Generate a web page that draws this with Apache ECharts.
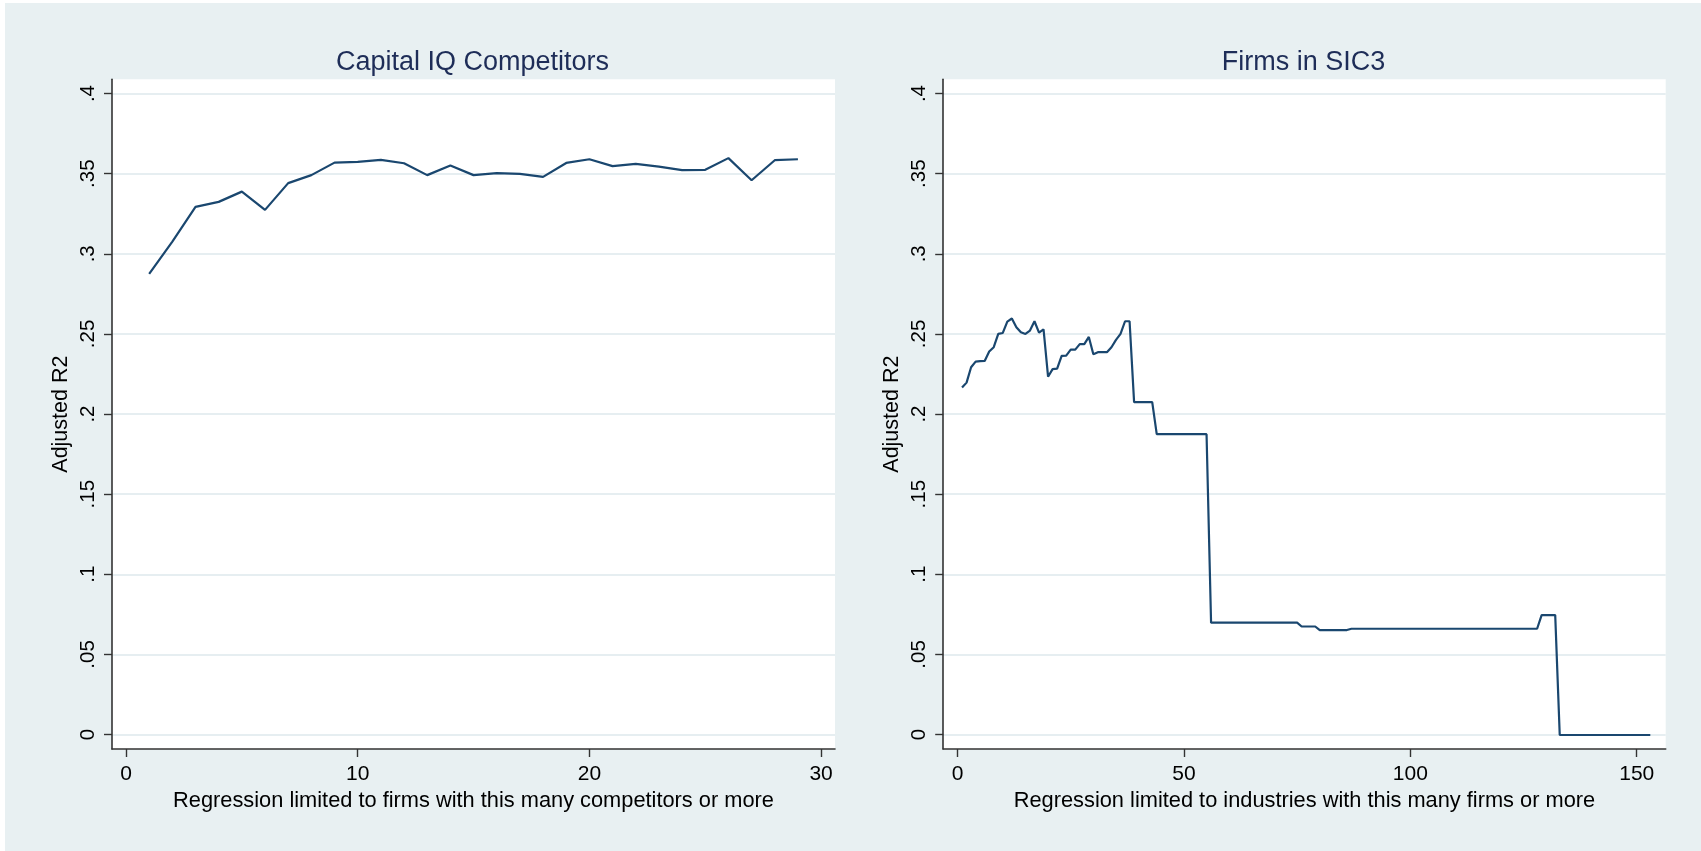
<!DOCTYPE html>
<html>
<head>
<meta charset="utf-8">
<script src="https://cdn.jsdelivr.net/npm/echarts@6/dist/echarts.min.js"></script>
<style>
  html, body { margin: 0; padding: 0; background: #ffffff; }
  #chart { position: absolute; left: 5px; top: 3px; width: 1696px; height: 848px; }
</style>
</head>
<body>
<div id="chart"></div>
<script>
// ---- Data ----
const titles = ['Capital IQ Competitors', 'Firms in SIC3'];
const yAxisTitle = 'Adjusted R2';
const xAxisTitles = [
  'Regression limited to firms with this many competitors or more',
  'Regression limited to industries with this many firms or more'
];

const competitorThresholds = [1,2,3,4,5,6,7,8,9,10,11,12,13,14,15,16,17,18,19,20,21,22,23,24,25,26,27,28,29];
const competitorR2 = [
  0.2875, 0.3076, 0.3293, 0.3324, 0.3388, 0.3274, 0.3441, 0.3491, 0.3569, 0.3574,
  0.3586, 0.3565, 0.3491, 0.3551, 0.3491, 0.3503, 0.3499, 0.3480, 0.3567, 0.3590,
  0.3547, 0.3561, 0.3544, 0.3522, 0.3524, 0.3597, 0.3459, 0.3584, 0.3590
];

const sic3Thresholds = [
  1,2,3,4,5,6,7,8,9,10,11,12,13,14,15,16,17,18,19,20,
  21,22,23,24,25,26,27,28,29,30,31,32,33,34,35,36,37,38,39,40,
  41,42,43,44,45,46,47,48,49,50,51,52,53,54,55,56,57,58,59,60,
  61,62,63,64,65,66,67,68,69,70,71,72,73,74,75,76,77,78,79,80,
  81,82,83,84,85,86,87,88,89,90,91,92,93,94,95,96,97,98,99,100,
  101,102,103,104,105,106,107,108,109,110,111,112,113,114,115,116,117,118,119,120,
  121,122,123,124,125,126,127,128,129,130,131,132,133,134,135,136,137,138,139,140,
  141,142,143,144,145,146,147,148,149,150,151,152,153
];
const sic3R2 = [
  0.2165, 0.2196, 0.2292, 0.2327, 0.2330, 0.2331, 0.2390, 0.2417, 0.2500, 0.2506,
  0.2577, 0.2596, 0.2542, 0.2510, 0.2500, 0.2521, 0.2579, 0.2508, 0.2529, 0.2233,
  0.2280, 0.2283, 0.2363, 0.2365, 0.2402, 0.2402, 0.2436, 0.2436, 0.2481, 0.2373,
  0.2386, 0.2386, 0.2386, 0.2417, 0.2463, 0.2500, 0.2579, 0.2579, 0.2074, 0.2074,
  0.2074, 0.2074, 0.2074, 0.1874, 0.1874, 0.1874, 0.1874, 0.1874, 0.1874, 0.1874,
  0.1874, 0.1874, 0.1874, 0.1874, 0.1874, 0.0698, 0.0698, 0.0698, 0.0698, 0.0698,
  0.0698, 0.0698, 0.0698, 0.0698, 0.0698, 0.0698, 0.0698, 0.0698, 0.0698, 0.0698,
  0.0698, 0.0698, 0.0698, 0.0698, 0.0698, 0.0674, 0.0674, 0.0674, 0.0674, 0.0652,
  0.0652, 0.0652, 0.0652, 0.0652, 0.0652, 0.0652, 0.0660, 0.0660, 0.0660, 0.0660,
  0.0660, 0.0660, 0.0660, 0.0660, 0.0660, 0.0660, 0.0660, 0.0660, 0.0660, 0.0660,
  0.0660, 0.0660, 0.0660, 0.0660, 0.0660, 0.0660, 0.0660, 0.0660, 0.0660, 0.0660,
  0.0660, 0.0660, 0.0660, 0.0660, 0.0660, 0.0660, 0.0660, 0.0660, 0.0660, 0.0660,
  0.0660, 0.0660, 0.0660, 0.0660, 0.0660, 0.0660, 0.0660, 0.0660, 0.0745, 0.0745,
  0.0745, 0.0745, -0.0003, -0.0003, -0.0003, -0.0003, -0.0003, -0.0003, -0.0003, -0.0003,
  -0.0003, -0.0003, -0.0003, -0.0003, -0.0003, -0.0003, -0.0003, -0.0003, -0.0003, -0.0003,
  -0.0003, -0.0003, -0.0003
];

const yTicks = [0, 0.05, 0.1, 0.15, 0.2, 0.25, 0.3, 0.35, 0.4];
const xTicksLeft = [0, 10, 20, 30];
const xTicksRight = [0, 50, 100, 150];

// ---- Styles ----
const BG = '#e8f0f2';
const GRIDLINE = '#e6eef1';
const LINE = '#1a476f';
const AXIS = '#333333';
const TITLE = '#1e2d58';
const FONT = '"Liberation Sans", Arial, sans-serif';

function yLabel(v) {
  if (v === 0) return '0';
  return String(v).replace(/^0/, '');
}

function pairs(xs, ys) { return xs.map((x, i) => [x, ys[i]]); }

const gridBase = { top: 76.3, height: 669.7, show: true, backgroundColor: '#ffffff', borderWidth: 0, containLabel: false };

function xAxisDef(idx, min, max, ticks, name) {
  return {
    type: 'value', gridIndex: idx, min: min, max: max,
    name: name, nameLocation: 'middle', nameGap: 37,
    nameTextStyle: { fontFamily: FONT, fontSize: 21.8, color: '#000' },
    axisLine: { show: true, onZero: false, lineStyle: { color: AXIS, width: 1.6 } },
    axisTick: { show: true, length: 8, customValues: ticks, lineStyle: { color: AXIS, width: 1.4 } },
    axisLabel: { customValues: ticks, fontFamily: FONT, fontSize: 21, color: '#000', margin: 15 },
    splitLine: { show: false }
  };
}
function yAxisDef(idx) {
  return {
    type: 'value', gridIndex: idx, min: -0.00905, max: 0.4089,
    name: yAxisTitle, nameLocation: 'middle', nameGap: 40, nameRotate: 90,
    nameTextStyle: { fontFamily: FONT, fontSize: 21.5, color: '#000' },
    axisLine: { show: true, onZero: false, lineStyle: { color: AXIS, width: 1.6 } },
    axisTick: { show: true, length: 8, customValues: yTicks, lineStyle: { color: AXIS, width: 1.4 } },
    axisLabel: { customValues: yTicks, rotate: 90, fontFamily: FONT, fontSize: 20.5, color: '#000', margin: 13, formatter: yLabel },
    splitLine: { show: true, customValues: yTicks, lineStyle: { color: GRIDLINE, width: 1.8 } }
  };
}

const chart = echarts.init(document.getElementById('chart'));
chart.setOption({
  backgroundColor: BG,
  animation: false,
  title: [
    { text: titles[0], left: 467.5, top: 46, textAlign: 'center', padding: 0,
      textStyle: { fontFamily: FONT, fontSize: 27, fontWeight: 'normal', color: TITLE } },
    { text: titles[1], left: 1298.5, top: 46, textAlign: 'center', padding: 0,
      textStyle: { fontFamily: FONT, fontSize: 27, fontWeight: 'normal', color: TITLE } }
  ],
  grid: [
    Object.assign({ left: 107, width: 723 }, gridBase),
    Object.assign({ left: 938.2, width: 722.5 }, gridBase)
  ],
  xAxis: [
    xAxisDef(0, -0.604, 30.6, xTicksLeft, xAxisTitles[0]),
    xAxisDef(1, -3.16, 156.4, xTicksRight, xAxisTitles[1])
  ],
  yAxis: [yAxisDef(0), yAxisDef(1)],
  series: [
    { type: 'line', xAxisIndex: 0, yAxisIndex: 0, data: pairs(competitorThresholds, competitorR2),
      symbol: 'none', lineStyle: { color: LINE, width: 2.2 }, z: 3 },
    { type: 'line', xAxisIndex: 1, yAxisIndex: 1, data: pairs(sic3Thresholds, sic3R2),
      symbol: 'none', lineStyle: { color: LINE, width: 2.2 }, z: 3 }
  ]
});
</script>
</body>
</html>
